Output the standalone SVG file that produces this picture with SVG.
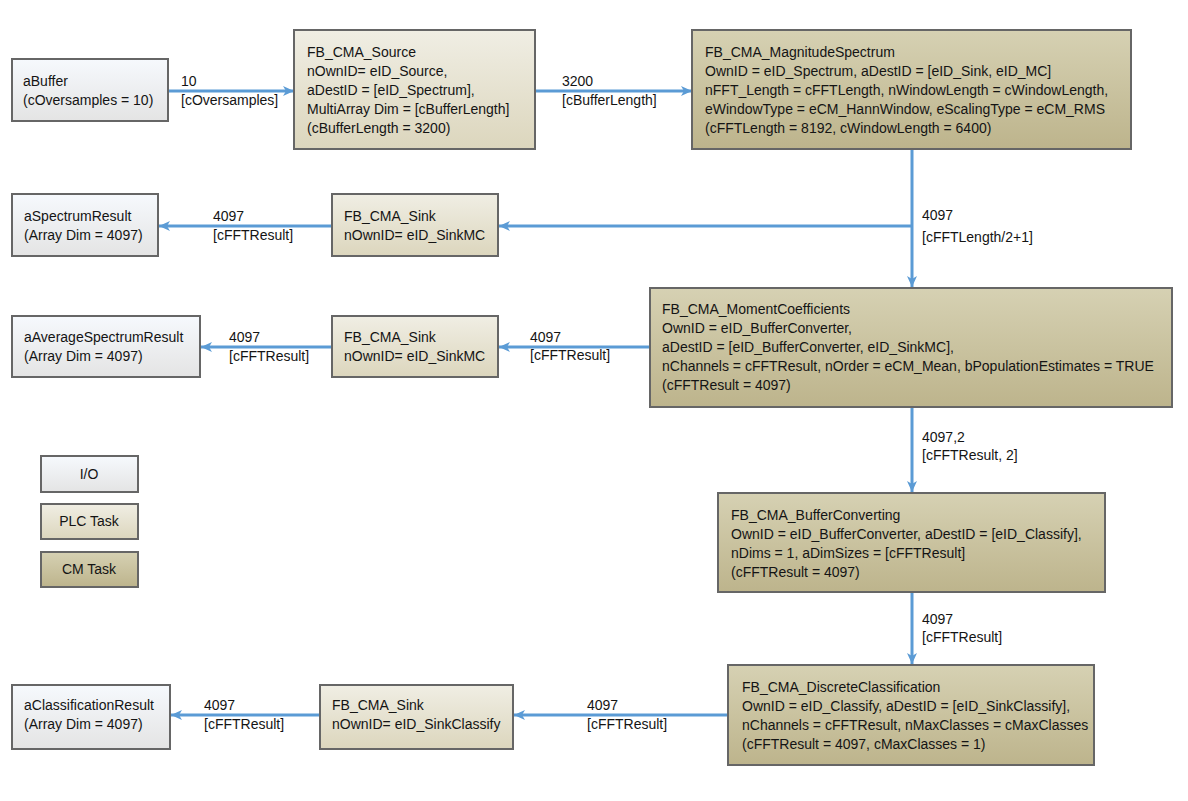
<svg xmlns="http://www.w3.org/2000/svg" width="1188" height="801" viewBox="0 0 1188 801">
<defs>
<linearGradient id="gIO" x1="0" y1="0" x2="0" y2="1"><stop offset="0" stop-color="#f6f9fd"/><stop offset="1" stop-color="#e4e4e4"/></linearGradient>
<linearGradient id="gPLC" x1="0" y1="0" x2="0" y2="1"><stop offset="0" stop-color="#f0eee4"/><stop offset="1" stop-color="#dcd6bd"/></linearGradient>
<linearGradient id="gCM" x1="0" y1="0" x2="0" y2="1"><stop offset="0" stop-color="#d6d1b3"/><stop offset="1" stop-color="#bdb48c"/></linearGradient>
<marker id="ah" markerUnits="userSpaceOnUse" markerWidth="12" markerHeight="10" refX="11" refY="5" orient="auto"><path d="M0,0 L11,5 L0,10 L3,5 Z" fill="#5b9bd5"/></marker>
</defs>
<style>
text{font-family:"Liberation Sans",Arial,sans-serif;font-size:14px;fill:#141414}
.io{fill:url(#gIO);stroke:#666;stroke-width:2}
.plc{fill:url(#gPLC);stroke:#666;stroke-width:2}
.cm{fill:url(#gCM);stroke:#666;stroke-width:2}
.c{fill:none;stroke:#5b9bd5;stroke-width:3;marker-end:url(#ah)}
.mid{text-anchor:middle}
</style>
<rect width="1188" height="801" fill="#ffffff"/>
<g id="connectors">
<line class="c" x1="168" y1="91" x2="294" y2="91"/>
<line class="c" x1="535" y1="91" x2="692" y2="91"/>
<line class="c" x1="912" y1="150" x2="912" y2="287"/>
<line class="c" x1="912" y1="226" x2="499" y2="226"/>
<line class="c" x1="332" y1="226" x2="159" y2="226"/>
<line class="c" x1="650" y1="347" x2="499" y2="347"/>
<line class="c" x1="332" y1="347" x2="201" y2="347"/>
<line class="c" x1="912" y1="408" x2="912" y2="492"/>
<line class="c" x1="912" y1="593" x2="912" y2="664"/>
<line class="c" x1="728" y1="715" x2="514" y2="715"/>
<line class="c" x1="320" y1="715" x2="171" y2="715"/>
<text x="181" y="86">10</text><text x="181" y="105">[cOversamples]</text>
<text x="562" y="86">3200</text><text x="562" y="105">[cBufferLength]</text>
<text x="922" y="220">4097</text><text x="922" y="242">[cFFTLength/2+1]</text>
<text x="213" y="221">4097</text><text x="213" y="240">[cFFTResult]</text>
<text x="229" y="342">4097</text><text x="229" y="361">[cFFTResult]</text>
<text x="530" y="342">4097</text><text x="530" y="360">[cFFTResult]</text>
<text x="922" y="442">4097,2</text><text x="922" y="460">[cFFTResult, 2]</text>
<text x="922" y="624">4097</text><text x="922" y="642">[cFFTResult]</text>
<text x="587" y="710">4097</text><text x="587" y="729">[cFFTResult]</text>
<text x="204" y="710">4097</text><text x="204" y="729">[cFFTResult]</text>
</g>
<g id="aBuffer"><rect class="io" x="12" y="59" width="156" height="62"/><text x="23" y="86">aBuffer</text><text x="23" y="105">(cOversamples = 10)</text></g>
<g id="source"><rect class="plc" x="294" y="30" width="241" height="119"/><text x="307" y="57">FB_CMA_Source</text><text x="307" y="76">nOwnID= eID_Source,</text><text x="307" y="95">aDestID = [eID_Spectrum],</text><text x="307" y="114">MultiArray Dim = [cBufferLength]</text><text x="307" y="133">(cBufferLength = 3200)</text></g>
<g id="magnitude"><rect class="cm" x="692" y="30" width="439" height="119"/><text x="705" y="57">FB_CMA_MagnitudeSpectrum</text><text x="705" y="76">OwnID = eID_Spectrum, aDestID = [eID_Sink, eID_MC]</text><text x="705" y="95">nFFT_Length = cFFTLength, nWindowLength = cWindowLength,</text><text x="705" y="114">eWindowType = eCM_HannWindow, eScalingType = eCM_RMS</text><text x="705" y="133">(cFFTLength = 8192, cWindowLength = 6400)</text></g>
<g id="aSpectrumResult"><rect class="io" x="12" y="194" width="146" height="62"/><text x="24" y="221">aSpectrumResult</text><text x="24" y="240">(Array Dim = 4097)</text></g>
<g id="sink1"><rect class="plc" x="332" y="194" width="166" height="62"/><text x="344" y="221">FB_CMA_Sink</text><text x="344" y="240">nOwnID= eID_SinkMC</text></g>
<g id="moment"><rect class="cm" x="650" y="288" width="522" height="119"/><text x="662" y="314">FB_CMA_MomentCoefficients</text><text x="662" y="333">OwnID = eID_BufferConverter,</text><text x="662" y="352">aDestID = [eID_BufferConverter, eID_SinkMC],</text><text x="662" y="371">nChannels = cFFTResult, nOrder = eCM_Mean, bPopulationEstimates = TRUE</text><text x="662" y="390">(cFFTResult = 4097)</text></g>
<g id="aAverageSpectrumResult"><rect class="io" x="12" y="316" width="188" height="61"/><text x="24" y="342">aAverageSpectrumResult</text><text x="24" y="361">(Array Dim = 4097)</text></g>
<g id="sink2"><rect class="plc" x="332" y="316" width="166" height="61"/><text x="344" y="342">FB_CMA_Sink</text><text x="344" y="361">nOwnID= eID_SinkMC</text></g>
<g id="legendIO"><rect class="io" x="41" y="456" width="97" height="36"/><text class="mid" x="89" y="479">I/O</text></g>
<g id="legendPLC"><rect class="plc" x="41" y="504" width="97" height="35"/><text class="mid" x="89" y="526">PLC Task</text></g>
<g id="legendCM"><rect class="cm" x="41" y="552" width="97" height="35"/><text class="mid" x="89" y="574">CM Task</text></g>
<g id="bufferConverting"><rect class="cm" x="718" y="493" width="387" height="99"/><text x="731" y="520">FB_CMA_BufferConverting</text><text x="731" y="539">OwnID = eID_BufferConverter, aDestID = [eID_Classify],</text><text x="731" y="558">nDims = 1, aDimSizes = [cFFTResult]</text><text x="731" y="577">(cFFTResult = 4097)</text></g>
<g id="discrete"><rect class="cm" x="728" y="665" width="366" height="100"/><text x="742" y="692">FB_CMA_DiscreteClassification</text><text x="742" y="711">OwnID = eID_Classify, aDestID = [eID_SinkClassify],</text><text x="742" y="730">nChannels = cFFTResult, nMaxClasses = cMaxClasses</text><text x="742" y="749">(cFFTResult = 4097, cMaxClasses = 1)</text></g>
<g id="aClassificationResult"><rect class="io" x="12" y="685" width="158" height="64"/><text x="24" y="710">aClassificationResult</text><text x="24" y="729">(Array Dim = 4097)</text></g>
<g id="sink3"><rect class="plc" x="320" y="685" width="193" height="64"/><text x="332" y="710">FB_CMA_Sink</text><text x="332" y="729">nOwnID= eID_SinkClassify</text></g>
</svg>
